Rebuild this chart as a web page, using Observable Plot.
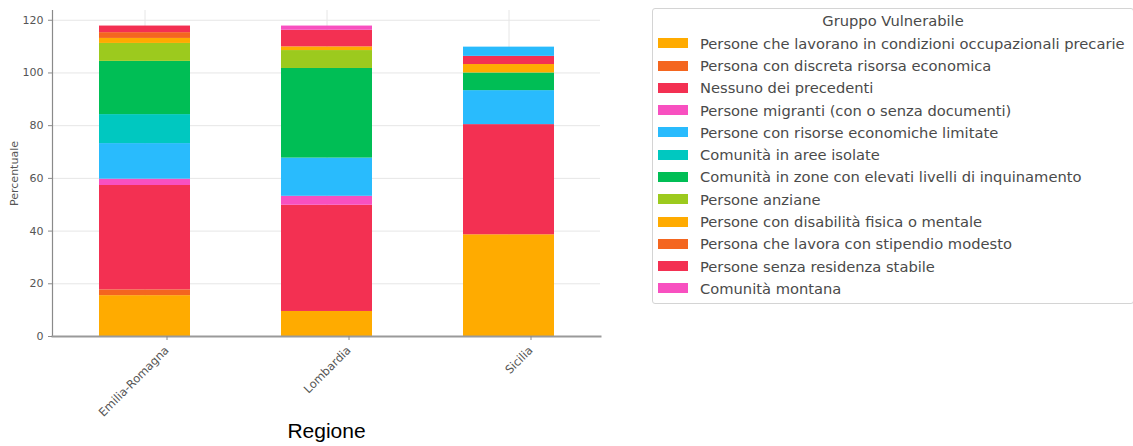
<!DOCTYPE html>
<html>
<head>
<meta charset="utf-8">
<script src="https://cdn.jsdelivr.net/npm/d3@7"></script>
<script src="https://cdn.jsdelivr.net/npm/@observablehq/plot@0.6"></script>
<style>
  html, body { margin: 0; padding: 0; background: #fff; }
  #wrap { position: relative; width: 1133px; height: 446px; overflow: hidden; font-family: "DejaVu Sans", sans-serif; }
  #chart { position: absolute; left: 0; top: 0; }
  #chart svg { font-family: "DejaVu Sans", sans-serif; }
  #chart svg g[aria-label="x-axis label"] text { font-family: "Liberation Sans", Arial, sans-serif; font-size: 21px; fill: #000; }
  #chart svg g[aria-label="x-axis tick label"] text { font-size: 11.5px; }
  #legend { position: absolute; left: 652px; top: 8px; width: 482px; height: 296px; box-sizing: border-box;
            border: 1px solid #d4d4d4; border-radius: 3px; color: #4a4a4a; font-size: 14.7px; padding-top: 1px; }
  #legend .title { height: 22.27px; line-height: 22.27px; text-align: center; }
  #legend .row { height: 22.27px; display: flex; align-items: center; white-space: nowrap; }
  #legend .sw { width: 30px; height: 10px; margin-left: 5px; margin-right: 12px; flex: none; }
</style>
</head>
<body>
<div id="wrap">
  <div id="chart"></div>
  <div id="legend"></div>
</div>
<script>
const regions = ["Emilia-Romagna", "Lombardia", "Sicilia"];

const categories = [
  "Persone che lavorano in condizioni occupazionali precarie",
  "Persona con discreta risorsa economica",
  "Nessuno dei precedenti",
  "Persone migranti (con o senza documenti)",
  "Persone con risorse economiche limitate",
  "Comunità in aree isolate",
  "Comunità in zone con elevati livelli di inquinamento",
  "Persone anziane",
  "Persone con disabilità fisica o mentale",
  "Persona che lavora con stipendio modesto",
  "Persone senza residenza stabile",
  "Comunità montana"
];

const colors = [
  "#ffab00", "#f4661f", "#f33052", "#f850c0", "#29bbfd", "#00c8c0",
  "#00be55", "#9cca1e", "#ffab00", "#f4661f", "#f33052", "#f850c0"
];

// stacking order (bottom to top); the last segment of Sicilia is drawn in blue in the source
const stackOrder = [...categories, "Persone con risorse economiche limitate"];

const emiliaRomagna = [15.5, 2.2, 39.6, 2.4, 13.5, 11.0, 20.2, 6.8, 1.9, 2.2, 2.5, 0, 0];
const lombardia     = [9.5, 0, 40.3, 3.4, 14.5, 0, 34.0, 6.8, 1.4, 0, 6.3, 1.6, 0];
const sicilia       = [38.6, 0, 41.8, 0, 12.9, 0, 6.7, 0, 3.2, 0, 3.1, 0, 3.5];

const yTicks = [0, 20, 40, 60, 80, 100, 120];

const table = [];
[emiliaRomagna, lombardia, sicilia].forEach((vals, r) => {
  vals.forEach((v, i) => {
    if (v > 0) table.push({regione: regions[r], gruppo: stackOrder[i], valore: v});
  });
});

const chart = Plot.plot({
  width: 620,
  height: 446,
  marginLeft: 52,
  marginRight: 20,
  marginTop: 10,
  marginBottom: 110,
  style: {fontSize: "11px", color: "#555"},
  x: {domain: regions, paddingInner: 0.5, paddingOuter: 0.25},
  y: {domain: [0, 123.7]},
  color: {domain: categories, range: colors},
  marks: [
    Plot.gridY(yTicks, {stroke: "#e6e6e6", strokeOpacity: 1}),
    Plot.gridX({stroke: "#e6e6e6", strokeOpacity: 1}),
    Plot.barY(table, {x: "regione", y: "valore", fill: "gruppo", order: null}),
    Plot.frame({anchor: "left", stroke: "#8a8a8a", strokeWidth: 1.2}),
    Plot.frame({anchor: "bottom", stroke: "#9a9a9a", strokeWidth: 2}),
    Plot.axisY({ticks: yTicks, tickSize: 4, stroke: "#8a8a8a", fill: "#555",
                label: "Percentuale", labelAnchor: "center", labelArrow: "none", labelOffset: 42}),
    Plot.axisX({tickSize: 4, stroke: "#8a8a8a", fill: "#555", tickRotate: -45,
                textAnchor: "end", dx: 22, dy: 0,
                label: "Regione", labelAnchor: "center", labelArrow: "none", labelOffset: 101})
  ]
});
document.getElementById("chart").appendChild(chart);

const legend = document.getElementById("legend");
const t = document.createElement("div");
t.className = "title";
t.textContent = "Gruppo Vulnerabile";
legend.appendChild(t);
categories.forEach((c, i) => {
  const row = document.createElement("div");
  row.className = "row";
  const sw = document.createElement("span");
  sw.className = "sw";
  sw.style.background = colors[i];
  const lab = document.createElement("span");
  lab.textContent = c;
  row.appendChild(sw);
  row.appendChild(lab);
  legend.appendChild(row);
});
</script>
</body>
</html>
